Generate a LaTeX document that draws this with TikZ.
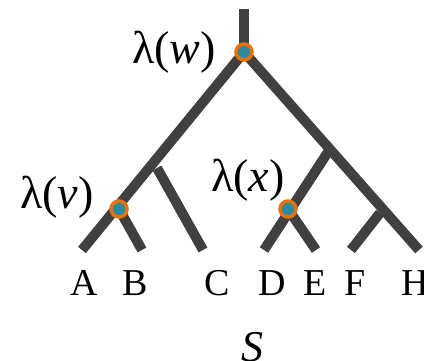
\documentclass[tikz,border=0pt]{standalone}
\usepackage{fontspec}
\setmainfont{Liberation Serif}
\definecolor{branch}{HTML}{404040}
\definecolor{ring}{HTML}{E5720F}
\definecolor{dotc}{HTML}{2E8A9E}
\begin{document}
\begin{tikzpicture}[x=1pt,y=-1pt,
  br/.style={draw=branch,line width=10pt,line cap=butt,line join=miter},
  ev/.style={circle,draw=ring,line width=3.5pt,fill=dotc,minimum size=16pt,inner sep=0pt},
  leaf/.style={font=\fontsize{38}{40}\selectfont,inner sep=0pt},
  lab/.style={font=\fontsize{46}{50}\selectfont,inner sep=0pt}]
\useasboundingbox (0,0) rectangle (424,361);
\coordinate (top) at (244,9);
\coordinate (w) at (244,52);
\coordinate (A) at (82,250);
\coordinate (v) at (119,209);
\coordinate (jC) at (157,168);
\coordinate (B) at (142,250);
\coordinate (C) at (203,250);
\coordinate (H) at (419,250);
\coordinate (jx) at (328,152);
\coordinate (x) at (288,209);
\coordinate (D) at (264,250);
\coordinate (E) at (316,250);
\coordinate (jF) at (380,213);
\coordinate (F) at (351,250);
\draw[br] (top) -- (w);
\draw[br] (A) -- (w) -- (H);
\draw[br] (v) -- (B);
\draw[br] (jC) -- (C);
\draw[br] (D) -- (jx);
\draw[br] (x) -- (E);
\draw[br] (jF) -- (F);
\node[ev] (nw) at (w) {};
\node[ev] (nv) at (v) {};
\node[ev] (nx) at (x) {};
\node[lab] (lw) at (174,52) {λ(\textit{w})};
\node[lab] (lv) at (57,197) {λ(\textit{v})};
\node[lab] (lx) at (248,180) {λ(\textit{x})};
\node[leaf] (tA) at (84,283) {A};
\node[leaf] (tB) at (135,283) {B};
\node[leaf] (tC) at (217,283) {C};
\node[leaf] (tD) at (272,283) {D};
\node[leaf] (tE) at (315,283) {E};
\node[leaf] (tF) at (355,283) {F};
\node[leaf] (tH) at (415,283) {H};
\node[leaf,font=\fontsize{44}{46}\selectfont] (tS) at (252,347) {\textit{S}};
\end{tikzpicture}
\end{document}
